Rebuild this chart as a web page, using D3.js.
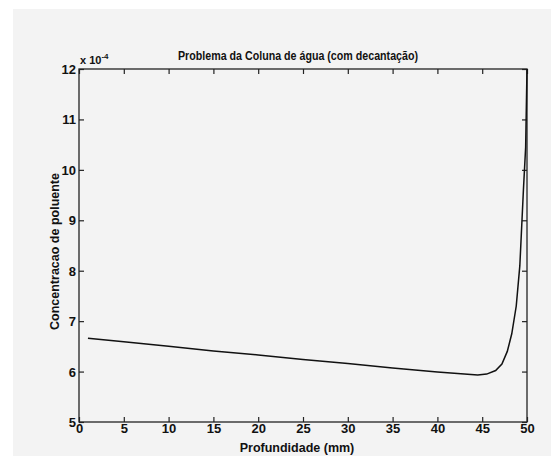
<!DOCTYPE html>
<html><head><meta charset="utf-8">
<script src="https://cdn.jsdelivr.net/npm/d3@7"></script>
<style>
html,body{margin:0;padding:0;background:#fff;}
svg{display:block;}
text{font-family:"Liberation Sans",Arial,sans-serif;fill:#111;}
</style></head>
<body>
<svg id="chart" width="551" height="456"></svg>
<script>
// Data (concentration in units of 1e-4)
const depth = [1, 5, 10, 15, 20, 25, 30, 35, 40, 43, 44.5, 45.5, 46.5, 47.2, 47.8, 48.3, 48.8, 49.2, 49.6, 49.85, 50];
const conc  = [6.66, 6.59, 6.50, 6.41, 6.33, 6.24, 6.16, 6.07, 5.99, 5.95, 5.93, 5.95, 6.02, 6.15, 6.40, 6.75, 7.30, 8.10, 9.60, 10.45, 12.0];
const xTicks = [0, 5, 10, 15, 20, 25, 30, 35, 40, 45, 50];
const yTicks = [5, 6, 7, 8, 9, 10, 11, 12];
const title = "Problema da Coluna de água (com decantação)";
const xLabel = "Profundidade (mm)";
const yLabel = "Concentracao de poluente";

const svg = d3.select("#chart");
// scanned paper background
svg.append("rect").attr("x", 13).attr("y", 9).attr("width", 538).attr("height", 447).attr("fill", "#f3f3f3");

const L = 79, R = 527, T = 69, B = 422;
const x = d3.scaleLinear().domain([0, 50]).range([L, R]);
const y = d3.scaleLinear().domain([5, 12]).range([B, T]);

// box
svg.append("rect").attr("x", L).attr("y", T).attr("width", R - L).attr("height", B - T)
  .attr("fill", "none").attr("stroke", "#222").attr("stroke-width", 1.3);

const tickLen = 5;
const axB = d3.axisBottom(x).tickValues(xTicks).tickSize(-tickLen).tickPadding(3).tickFormat(d3.format("d"));
const gB = svg.append("g").attr("transform", `translate(0,${B})`).call(axB);
const axT = d3.axisTop(x).tickValues(xTicks).tickSize(-tickLen).tickFormat("");
const gT = svg.append("g").attr("transform", `translate(0,${T})`).call(axT);
const axL = d3.axisLeft(y).tickValues(yTicks).tickSize(-tickLen).tickPadding(3).tickFormat(d3.format("d"));
const gL = svg.append("g").attr("transform", `translate(${L},0)`).call(axL);
const axR = d3.axisRight(y).tickValues(yTicks).tickSize(-tickLen).tickFormat("");
const gR = svg.append("g").attr("transform", `translate(${R},0)`).call(axR);

[gB, gT, gL, gR].forEach(g => {
  g.select(".domain").remove();
  g.selectAll(".tick line").attr("stroke", "#222").attr("stroke-width", 1.2);
  g.selectAll(".tick text").attr("font-size", 13).attr("font-weight", "bold")
    .attr("font-family", "'Liberation Sans',Arial,sans-serif").attr("fill", "#111");
});
gB.selectAll(".tick text").attr("y", 0).attr("dy", "0.85em");
gL.selectAll(".tick text").attr("dy", "0.35em");

// exponent label
const ex = svg.append("text").attr("x", L + 1).attr("y", T - 5).attr("font-size", 11).attr("font-weight", "bold");
ex.append("tspan").text("x 10");
ex.append("tspan").attr("dy", -5).attr("font-size", 8).text("-4");

// title
svg.append("text").attr("x", 298).attr("y", 60).attr("text-anchor", "middle")
  .attr("font-size", 12).attr("font-weight", "bold")
  .attr("textLength", 240).attr("lengthAdjust", "spacingAndGlyphs").text(title);

// x label
svg.append("text").attr("x", 297).attr("y", 452).attr("text-anchor", "middle")
  .attr("font-size", 12.5).attr("font-weight", "bold").text(xLabel);

// y label
svg.append("text").attr("transform", `translate(59,${(T + B) / 2 + 6}) rotate(-90)`)
  .attr("text-anchor", "middle").attr("font-size", 12.5).attr("font-weight", "bold").text(yLabel);

// curve
const line = d3.line().x((d, i) => x(depth[i])).y(d => y(d));
svg.append("path").datum(conc).attr("d", line).attr("fill", "none")
  .attr("stroke", "#111").attr("stroke-width", 1.5);
</script>
</body></html>
